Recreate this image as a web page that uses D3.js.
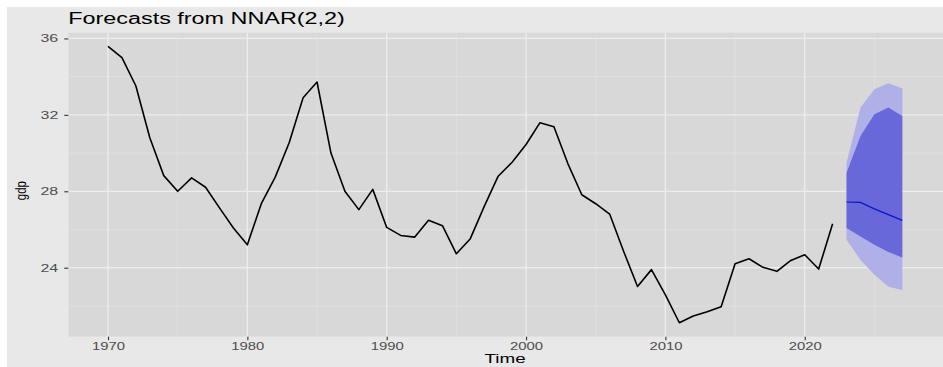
<!DOCTYPE html>
<html>
<head>
<meta charset="utf-8">
<script src="https://cdn.jsdelivr.net/npm/d3@7"></script>
<style>
  html, body { margin: 0; padding: 0; background: #fff; }
  svg { display: block; font-family: "Liberation Sans", Arial, sans-serif; }
  /* the reference picture is stretched sideways, so the text is too */
  .wide { transform-box: fill-box; }
</style>
</head>
<body>
<script>
// observed series (gdp) 1970-2022
let years = d3.range(1970, 2023)
let gdp = [35.58, 35.0, 33.51, 30.8, 28.82, 28.0, 28.7, 28.21, 27.13, 26.08,
           25.2, 27.35, 28.74, 30.54, 32.9, 33.72, 30.0, 28.0, 27.04, 28.1,
           26.11, 25.69, 25.6, 26.48, 26.2, 24.73, 25.52, 27.21, 28.79, 29.52,
           30.45, 31.59, 31.38, 29.45, 27.82, 27.35, 26.81, 24.86, 23.02, 23.9,
           22.58, 21.12, 21.47, 21.7, 21.96, 24.21, 24.47, 24.02, 23.81, 24.38,
           24.68, 23.93, 26.3]

// forecast 2023-2027
let fcYears = [2023, 2024, 2025, 2026, 2027]
let fcMean = [27.44, 27.42, 27.08, 26.78, 26.48]
let lo80 = [26.08, 25.64, 25.2, 24.82, 24.54]
let hi80 = [28.97, 30.89, 32.03, 32.38, 31.94]
let lo95 = [25.46, 24.41, 23.63, 23.01, 22.84]
let hi95 = [29.49, 32.38, 33.34, 33.65, 33.39]

let xMajor = [1970, 1980, 1990, 2000, 2010, 2020]
let xMinor = [1975, 1985, 1995, 2005, 2015, 2025]
let yMajor = [24, 28, 32, 36]
let yMinor = [22, 26, 30, 34]

let W = 943, H = 367
let panel = { left: 68.3, top: 32.5, right: 943, bottom: 336.7 }

let svg = d3.select("body")
            .append("svg")
            .attr("width", W)
            .attr("height", H)

// white strip on top / left, then grey plot background
svg.append("rect").attr("width", W).attr("height", H).attr("fill", "#fff")
svg.append("rect").attr("x", 7).attr("y", 7).attr("width", W - 7).attr("height", H - 7).attr("fill", "#e8e8e8")

let x = d3.scaleLinear()
          .domain([1967.15, 2029.85])
          .range([panel.left, 942])

let y = d3.scaleLinear()
          .domain([20.39, 36.31])
          .range([panel.bottom, panel.top])

svg.append("clipPath").attr("id", "clip")
   .append("rect")
   .attr("x", panel.left).attr("y", panel.top)
   .attr("width", panel.right - panel.left).attr("height", panel.bottom - panel.top)

let g = svg.append("g").attr("clip-path", "url(#clip)")

g.append("rect")
 .attr("x", panel.left).attr("y", panel.top)
 .attr("width", panel.right - panel.left).attr("height", panel.bottom - panel.top)
 .attr("fill", "#d8d8d8")

// grid lines
g.selectAll(".ymin").data(yMinor).enter().append("line")
 .attr("x1", panel.left).attr("x2", panel.right)
 .attr("y1", d => y(d)).attr("y2", d => y(d))
 .attr("stroke", "#e2e2e2").attr("stroke-width", 0.7)
g.selectAll(".xmin").data(xMinor).enter().append("line")
 .attr("y1", panel.top).attr("y2", panel.bottom)
 .attr("x1", d => x(d)).attr("x2", d => x(d))
 .attr("stroke", "#e2e2e2").attr("stroke-width", 0.7)
g.selectAll(".ymaj").data(yMajor).enter().append("line")
 .attr("x1", panel.left).attr("x2", panel.right)
 .attr("y1", d => y(d)).attr("y2", d => y(d))
 .attr("stroke", "#ededed").attr("stroke-width", 1.3)
g.selectAll(".xmaj").data(xMajor).enter().append("line")
 .attr("y1", panel.top).attr("y2", panel.bottom)
 .attr("x1", d => x(d)).attr("x2", d => x(d))
 .attr("stroke", "#ededed").attr("stroke-width", 1.3)

// prediction intervals
let fc = fcYears.map((yr, i) => ({ yr: yr, mean: fcMean[i], lo80: lo80[i], hi80: hi80[i], lo95: lo95[i], hi95: hi95[i] }))

g.append("path")
 .datum(fc)
 .attr("d", d3.area().x(d => x(d.yr)).y0(d => y(d.lo95)).y1(d => y(d.hi95)))
 .attr("fill", "#b0b0e8")
g.append("path")
 .datum(fc)
 .attr("d", d3.area().x(d => x(d.yr)).y0(d => y(d.lo80)).y1(d => y(d.hi80)))
 .attr("fill", "#6868da")
g.append("path")
 .datum(fc)
 .attr("d", d3.line().x(d => x(d.yr)).y(d => y(d.mean)))
 .attr("fill", "none")
 .attr("stroke", "#0a14c8")
 .attr("stroke-width", 1.2)

// observed line
g.append("path")
 .datum(years.map((yr, i) => [yr, gdp[i]]))
 .attr("d", d3.line().x(d => x(d[0])).y(d => y(d[1])))
 .attr("fill", "none")
 .attr("stroke", "#000")
 .attr("stroke-width", 1.6)
 .attr("stroke-linejoin", "round")

// axes
let xAxis = d3.axisBottom(x).tickValues(xMajor).tickFormat(d3.format("d")).tickSize(3.5).tickPadding(2.5)
let yAxis = d3.axisLeft(y).tickValues(yMajor).tickSize(4).tickPadding(6)

let xa = svg.append("g").attr("transform", `translate(0, ${panel.bottom})`).call(xAxis)
let ya = svg.append("g").attr("transform", `translate(${panel.left}, 0)`).call(yAxis)

;[xa, ya].forEach(a => {
  a.select(".domain").remove()
  a.selectAll(".tick line").attr("stroke", "#333").attr("stroke-width", 1.1)
  a.selectAll(".tick text").attr("fill", "#4d4d4d").style("font-size", "11px")
   .attr("class", "wide")
})
xa.selectAll(".tick text").style("transform-origin", "center").style("transform", "scaleX(1.35)")
ya.selectAll(".tick text").style("transform-origin", "right center").style("transform", "scaleX(1.45)")

// titles
svg.append("text")
   .attr("x", panel.left).attr("y", 24)
   .attr("class", "wide")
   .style("transform-origin", "left center").style("transform", "scaleX(1.48)")
   .style("font-size", "15.8px").attr("fill", "#000")
   .text("Forecasts from NNAR(2,2)")

svg.append("text")
   .attr("x", (panel.left + 942) / 2).attr("y", 363)
   .attr("text-anchor", "middle")
   .attr("class", "wide")
   .style("transform-origin", "center").style("transform", "scaleX(1.45)")
   .style("font-size", "13px").attr("fill", "#000")
   .text("Time")

svg.append("text")
   .attr("transform", `translate(26, ${(panel.top + panel.bottom) / 2 + 6}) scale(1.3, 1) rotate(-90)`)
   .attr("text-anchor", "middle")
   .style("font-size", "11.5px").attr("fill", "#000")
   .text("gdp")
</script>
</body>
</html>
